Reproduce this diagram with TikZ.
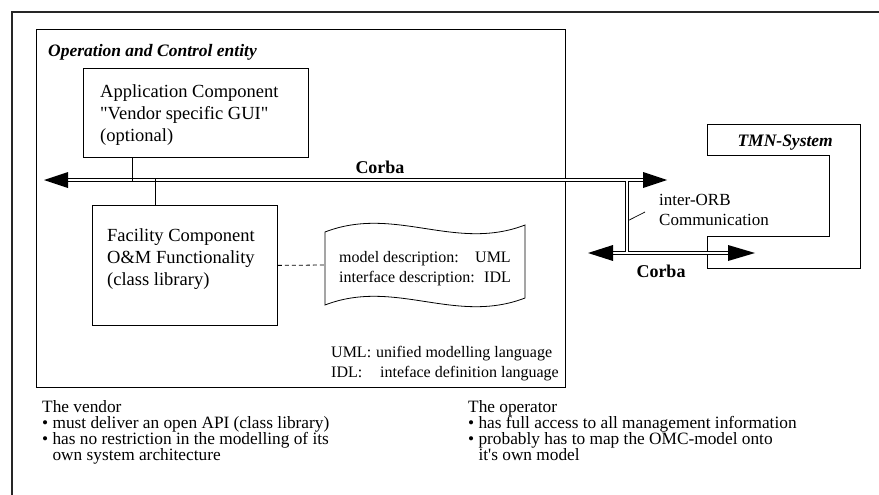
\documentclass[tikz,border=0pt]{standalone}
\usepackage{fontspec}
\setmainfont{Liberation Serif}[Ligatures=TeXOff]
\usetikzlibrary{calc}
\begin{document}
\begin{tikzpicture}[x=1pt,y=-1pt,
  thin line/.style={draw, line width=0.8pt},
  box/.style={thin line, rectangle, inner sep=0pt, anchor=north west},
  boxtext/.style={font=\fontsize{18.5}{22}\selectfont, align=left, anchor=north west, inner sep=0pt},
  title/.style={font=\fontsize{17.5}{20}\selectfont\bfseries\itshape, inner sep=0pt},
  dlabel/.style={font=\fontsize{16}{20}\selectfont, inner sep=0pt, anchor=base west},
  corba/.style={font=\fontsize{18}{20}\selectfont\bfseries, inner sep=0pt},
  note/.style={font=\fontsize{17.3}{16}\selectfont, align=left, anchor=north west, inner sep=0pt},
  busouter/.style={draw=black, line width=3.2pt},
  businner/.style={draw=white, line width=1.2pt},
]
\useasboundingbox (0,0) rectangle (879,495);

% outer frame (only top and left edges visible)
\coordinate (frTR) at (879,12);
\coordinate (frTL) at (12,12);
\coordinate (frBL) at (12,495);
\draw[line width=1.1pt, black!85] (frTR) -- (frTL) -- (frBL);

% Operation and Control entity
\node[box, minimum width=529pt, minimum height=358pt] (oce) at (36,29) {};
\node[title, anchor=west] (ocetitle) at (48,52) {Operation and Control entity};

% Application component
\node[box, minimum width=225pt, minimum height=89pt] (app) at (83,68) {};
\node[boxtext] (apptext) at (100,84) {Application Component\\"Vendor specific GUI"\\(optional)};

% Facility component
\node[box, minimum width=185pt, minimum height=120pt] (fac) at (92,205) {};
\node[boxtext] (factext) at (107,228) {Facility Component\\O\&M Functionality\\(class library)};

% document shape
\coordinate (docTL) at (325,232);
\coordinate (docTR) at (525,225);
\coordinate (docBL) at (325,305);
\coordinate (docBR) at (525,298);
\draw[line width=0.8pt] (docTL) .. controls (395,205) and (455,252) .. (docTR)
  -- (docBR) .. controls (455,325) and (395,278) .. (docBL) -- cycle;
\node[dlabel] (d1) at (339,262) {model description:};
\node[dlabel] (d1b) at (475,262) {UML};
\node[dlabel] (d2) at (339,282) {interface description:};
\node[dlabel] (d2b) at (484,282) {IDL};
\coordinate (docW) at (325,265);
\draw[line width=0.8pt, dash pattern=on 4pt off 3pt] (fac.east) -- (docW);

% legend
\node[dlabel] (l1) at (331,357) {UML:};
\node[dlabel] (l1b) at (376,357) {unified modelling language};
\node[dlabel] (l2) at (331,377) {IDL:};
\node[dlabel] (l2b) at (380,377) {inteface definition language};

% TMN system
\draw[line width=0.8pt] (707,124) -- (860,124) -- (860,268) -- (707,268) -- (707,236)
  -- (829,236) -- (829,155) -- (707,155) -- cycle;
\node[title, anchor=east] (tmn) at (833,143) {TMN-System};

% Corba buses (double lines)
\coordinate (busL) at (44,180);
\coordinate (busR) at (667,180);
\coordinate (orbT) at (627,180);
\coordinate (orbB) at (627,253);
\coordinate (bus2L) at (588,253);
\coordinate (bus2R) at (755,253);
\draw[busouter] (orbT) -- (orbB);
\draw[busouter] ($(busL)+(20,0)$) -- ($(busR)+(-20,0)$);
\draw[busouter] ($(bus2L)+(20,0)$) -- ($(bus2R)+(-20,0)$);
\draw[businner] ($(orbT)+(0,-0.9)$) -- ($(orbB)+(0,0.9)$);
\draw[businner] ($(busL)+(20,0)$) -- ($(busR)+(-20,0)$);
\draw[businner] ($(bus2L)+(20,0)$) -- ($(bus2R)+(-20,0)$);
\fill (busL) -- ++(24,-8) -- ++(0,16) -- cycle;
\fill (busR) -- ++(-24,-8) -- ++(0,16) -- cycle;
\fill (bus2L) -- ++(25,-8) -- ++(0,16) -- cycle;
\fill (bus2R) -- ++(-27,-8) -- ++(0,16) -- cycle;
\node[corba] (corba1) at (380,167) {Corba};
\node[corba] (corba2) at (661,271) {Corba};

% links to the bus
\draw[line width=0.8pt] ([xshift=49pt]app.south west) -- ([xshift=49pt,yshift=-1.6pt]app.south west |- busL);
\draw[line width=0.8pt] ([xshift=63pt]fac.north west) -- ([xshift=63pt,yshift=1.6pt]fac.north west |- busL);

% inter-ORB label
\node[font=\fontsize{17}{20}\selectfont, align=left, anchor=west, inner sep=0pt] (orb) at (659,210) {inter-ORB\\Communication};
\coordinate (orbLead) at (645,212);
\draw[line width=0.7pt] ($(orbT)!0.55!(orbB)+(2,0)$) -- (orbLead);

% notes
\node[note] (vendor) at (42,400) {The vendor\\• must deliver an open API (class library)\\• has no restriction in the modelling of its\\\hphantom{• }own system architecture};
\node[note] (operator) at (468,400) {The operator\\• has full access to all management information\\• probably has to map the OMC-model onto\\\hphantom{• }it's own model};
\end{tikzpicture}
\end{document}
